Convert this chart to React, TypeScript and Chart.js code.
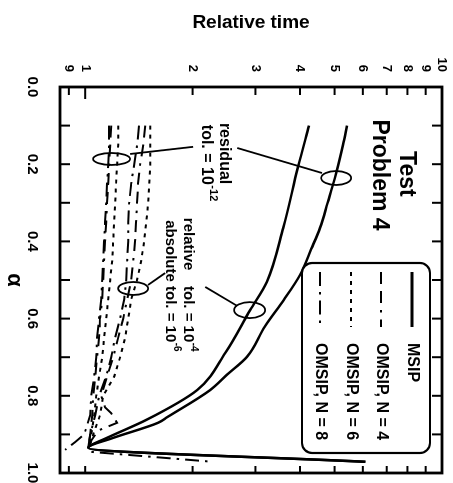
import React, { useEffect, useRef } from 'react';
import { Chart, registerables } from 'chart.js';

Chart.register(...registerables);

const FONT = '"Liberation Sans", Arial, Helvetica, sans-serif';

// Horizontal axis (α)
const alphaTickValues = [0, 0.2, 0.4, 0.6, 0.8, 1.0];
const alphaTickLabels = ['0.0', '0.2', '0.4', '0.6', '0.8', '1.0'];
const alphaTickMarks = [0.1, 0.2, 0.3, 0.4, 0.5, 0.6, 0.7, 0.8, 0.9];

// Logarithmic relative-time axis
const timeTickValues = [0.9, 1, 2, 3, 4, 5, 6, 7, 8, 9, 10];
const timeTickLabels = ['9', '1', '2', '3', '4', '5', '6', '7', '8', '9', '10'];

const legendLabels = ['MSIP', 'OMSIP, N = 4', 'OMSIP, N = 6', 'OMSIP, N = 8'];

// MSIP, residual tol. = 1e-12
const msipResAlpha = [0.10, 0.15, 0.236, 0.30, 0.365, 0.42, 0.487, 0.552, 0.62, 0.699, 0.745, 0.785, 0.855, 0.87, 0.91, 0.935, 0.971];
const msipResTime = [5.42, 5.28, 5.01, 4.78, 4.55, 4.30, 4.00, 3.60, 3.19, 2.84, 2.50, 2.24, 1.70, 1.60, 1.19, 1.02, 6.1];

// MSIP, relative tol. = 1e-4, absolute tol. = 1e-6
const msipRelAlpha = [0.10, 0.207, 0.365, 0.505, 0.578, 0.689, 0.785, 0.863, 0.91, 0.935, 0.971];
const msipRelTime = [4.24, 3.95, 3.59, 3.23, 2.90, 2.47, 2.06, 1.48, 1.145, 1.02, 6.1];

// OMSIP, residual tolerance
const omsipResAlpha = [0.10, 0.15, 0.20, 0.25, 0.30, 0.35, 0.40, 0.45, 0.50, 0.55, 0.60, 0.65, 0.70, 0.75, 0.80, 0.85, 0.90, 0.935];
const omsipN4ResTime = [1.183, 1.175, 1.167, 1.160, 1.152, 1.145, 1.137, 1.130, 1.123, 1.116, 1.101, 1.094, 1.080, 1.067, 1.053, 1.046, 1.033, 1.019];
const omsipN6ResTime = [1.237, 1.237, 1.229, 1.221, 1.213, 1.206, 1.198, 1.190, 1.175, 1.160, 1.145, 1.130, 1.116, 1.094, 1.074, 1.060, 1.040, 1.019];
const omsipN8ResAlpha = [0.10, 0.15, 0.20, 0.25, 0.30, 0.35, 0.40, 0.45, 0.50, 0.55, 0.60, 0.65, 0.70, 0.75, 0.80, 0.85, 0.90, 0.92, 0.94];
const omsipN8ResTime = [1.167, 1.167, 1.160, 1.152, 1.145, 1.137, 1.130, 1.123, 1.116, 1.109, 1.094, 1.080, 1.074, 1.060, 1.040, 1.033, 0.994, 0.937, 0.879];

// OMSIP, relative / absolute tolerance
const omsipN4RelAlpha = [0.10, 0.15, 0.20, 0.25, 0.30, 0.35, 0.40, 0.45, 0.50, 0.55, 0.60, 0.65, 0.70, 0.75, 0.80, 0.83, 0.845, 0.87, 0.89, 0.92, 0.94];
const omsipN4RelTime = [1.473, 1.454, 1.426, 1.407, 1.398, 1.389, 1.380, 1.363, 1.346, 1.311, 1.278, 1.237, 1.198, 1.152, 1.109, 1.137, 1.183, 1.229, 1.087, 1.033, 1.019];
const omsipN6RelAlpha = [0.10, 0.15, 0.20, 0.25, 0.30, 0.35, 0.40, 0.45, 0.50, 0.55, 0.60, 0.65, 0.70, 0.75, 0.80, 0.85, 0.90, 0.935];
const omsipN6RelTime = [1.522, 1.522, 1.522, 1.512, 1.502, 1.483, 1.463, 1.435, 1.398, 1.346, 1.320, 1.294, 1.253, 1.206, 1.123, 1.101, 1.053, 1.026];
const omsipN8RelAlpha = [0.10, 0.15, 0.20, 0.25, 0.30, 0.35, 0.40, 0.45, 0.50, 0.55, 0.60, 0.65, 0.70, 0.75, 0.80, 0.85, 0.90, 0.935, 0.945, 0.971];
const omsipN8RelTime = [1.416, 1.398, 1.372, 1.346, 1.328, 1.320, 1.320, 1.311, 1.303, 1.286, 1.253, 1.213, 1.183, 1.145, 1.094, 1.067, 1.033, 1.019, 1.03, 2.28];

const DASH_N4 = [12, 7, 12, 7, 2.5, 7];
const DASH_N6 = [4, 5];
const DASH_N8 = [14, 6, 2.5, 6];
const legendDashes = [[], DASH_N4, DASH_N6, DASH_N8];

const pts = (a: number[], t: number[]) => a.map((v, i) => ({ x: v, y: t[i] }));

const line = (data: { x: number; y: number }[], dash: number[], width: number, smooth: boolean) => ({
  data,
  borderColor: '#000',
  borderWidth: width,
  borderDash: dash,
  pointRadius: 0,
  fill: false,
  tension: 0,
  cubicInterpolationMode: smooth ? 'monotone' : 'default',
});

const notesPlugin = {
  id: 'notes',
  afterDatasetsDraw(chart: any) {
    const { ctx, chartArea: a, scales } = chart;
    const px = (v: number) => scales.x.getPixelForValue(v);
    const py = (v: number) => scales.y.getPixelForValue(v);
    ctx.save();
    ctx.strokeStyle = '#000';
    ctx.fillStyle = '#000';
    ctx.setLineDash([]);
    ctx.lineCap = 'butt';

    const seg = (x1: number, y1: number, x2: number, y2: number) => {
      ctx.beginPath();
      ctx.moveTo(x1, y1);
      ctx.lineTo(x2, y2);
      ctx.stroke();
    };
    const ell = (x: number, y: number, rx: number, ry: number) => {
      ctx.beginPath();
      ctx.ellipse(x, y, rx, ry, 0, 0, Math.PI * 2);
      ctx.stroke();
    };
    const text = (s: string, x: number, y: number, size: number, align = 'left') => {
      ctx.font = `bold ${size}px ${FONT}`;
      ctx.textAlign = align;
      ctx.textBaseline = 'middle';
      ctx.fillText(s, x, y);
    };
    const supText = (base: string, sup: string, x: number, y: number, size: number) => {
      text(base, x, y, size);
      const w = ctx.measureText(base).width;
      text(sup, x + w + 0.5, y - size * 0.42, Math.round(size * 0.68));
    };

    // frame
    ctx.lineWidth = 2.8;
    ctx.strokeRect(a.left, a.top, a.right - a.left, a.bottom - a.top);

    // inward tick marks
    ctx.lineWidth = 2;
    alphaTickMarks.forEach((t) => {
      const x = px(t);
      seg(x, a.bottom, x, a.bottom - 10);
      seg(x, a.top, x, a.top + 10);
    });
    timeTickValues.forEach((t) => {
      const y = py(t);
      seg(a.left, y, a.left + (t === 1 ? 12 : 8), y);
      seg(a.right, y, a.right - 7, y);
    });

    // leader lines and ellipses
    ctx.lineWidth = 1.8;
    ell(px(0.1865), py(1.186), 6, 18.5);
    seg(px(0.1736), py(1.337), px(0.155), py(2.007));
    seg(px(0.158), py(2.666), px(0.2228), py(4.61));
    ell(px(0.2358), py(5.05), 7, 15);
    ell(px(0.522), py(1.363), 6.5, 15);
    seg(px(0.513), py(1.5), px(0.482), py(1.675));
    seg(px(0.518), py(2.17), px(0.567), py(2.666));
    ell(px(0.578), py(2.89), 8, 15.5);

    // labels
    text('Test', px(0.225), py(7.93), 23, 'center');
    text('Problem 4', px(0.228), py(6.66), 23, 'center');
    text('residual', px(0.093), py(2.45), 16);
    supText('tol. = 10', '-12', px(0.098), py(2.18), 16);
    text('relative', px(0.339), py(1.94), 15);
    supText('tol. = 10', '-4', px(0.5155), py(1.94), 15);
    text('absolute', px(0.345), py(1.73), 15);
    supText('tol. = 10', '-6', px(0.5155), py(1.73), 15);

    // legend
    const bx = a.left + 176;
    const bw = a.right - 20 - bx;
    const by = a.top + 12;
    const bh = 128;
    const r = 10;
    ctx.beginPath();
    ctx.moveTo(bx + r, by);
    ctx.arcTo(bx + bw, by, bx + bw, by + bh, r);
    ctx.arcTo(bx + bw, by + bh, bx, by + bh, r);
    ctx.arcTo(bx, by + bh, bx, by, r);
    ctx.arcTo(bx, by, bx + bw, by, r);
    ctx.closePath();
    ctx.fillStyle = '#fff';
    ctx.fill();
    ctx.lineWidth = 2.2;
    ctx.stroke();
    ctx.fillStyle = '#000';
    const rows = [30, 61, 91, 122];
    legendLabels.forEach((lab, i) => {
      const yy = by + rows[i] - 12;
      ctx.lineWidth = i === 0 ? 2.8 : 2.2;
      ctx.setLineDash(legendDashes[i]);
      seg(bx + 9, yy, bx + 64, yy);
      ctx.setLineDash([]);
      text(lab, bx + 80, yy, 16);
    });

    ctx.restore();
  },
};

export default function App() {
  const ref = useRef<HTMLCanvasElement | null>(null);

  useEffect(() => {
    if (!ref.current) return;
    const chart = new Chart(ref.current, {
      type: 'line',
      data: {
        datasets: [
          line(pts(msipResAlpha, msipResTime), [], 2.5, true),
          line(pts(msipRelAlpha, msipRelTime), [], 2.5, true),
          line(pts(omsipResAlpha, omsipN4ResTime), DASH_N4, 2, false),
          line(pts(omsipResAlpha, omsipN6ResTime), DASH_N6, 2, false),
          line(pts(omsipN8ResAlpha, omsipN8ResTime), DASH_N8, 2, false),
          line(pts(omsipN4RelAlpha, omsipN4RelTime), DASH_N4, 2, false),
          line(pts(omsipN6RelAlpha, omsipN6RelTime), DASH_N6, 2, false),
          line(pts(omsipN8RelAlpha, omsipN8RelTime), DASH_N8, 2, false),
        ] as any,
      },
      options: {
        responsive: false,
        animation: false,
        devicePixelRatio: 1,
        layout: { padding: { top: 11, right: 10, left: 0, bottom: 0 } },
        plugins: { legend: { display: false }, tooltip: { enabled: false } },
        scales: {
          x: {
            type: 'linear',
            min: 0,
            max: 1,
            grid: { display: false },
            border: { display: false },
            afterBuildTicks: (s: any) => {
              s.ticks = alphaTickValues.map((v) => ({ value: v }));
            },
            afterFit: (s: any) => {
              s.height = 60;
              s.paddingLeft = 0;
              s.paddingRight = 0;
            },
            ticks: {
              autoSkip: false,
              maxRotation: 0,
              padding: 11,
              color: '#000',
              font: { family: FONT, size: 15, weight: 'bold' },
              callback: (_v: any, i: number) => alphaTickLabels[i],
            },
            title: {
              display: true,
              text: 'α',
              color: '#000',
              font: { family: FONT, size: 22, weight: 'bold' },
              padding: { top: 0, bottom: 1 },
            },
          },
          y: {
            type: 'logarithmic',
            min: 0.85,
            max: 10,
            grid: { display: false },
            border: { display: false },
            afterBuildTicks: (s: any) => {
              s.ticks = timeTickValues.map((v) => ({ value: v }));
            },
            afterFit: (s: any) => {
              s.width = 87;
              s.paddingTop = 0;
              s.paddingBottom = 0;
            },
            ticks: {
              autoSkip: false,
              padding: 7,
              color: '#000',
              font: { family: FONT, size: 13, weight: 'bold' },
              callback: (_v: any, i: number) => timeTickLabels[i],
            },
            title: {
              display: true,
              text: 'Relative time',
              color: '#000',
              font: { family: FONT, size: 19, weight: 'bold' },
              padding: { top: 11, bottom: 0 },
            },
          },
        },
      } as any,
      plugins: [notesPlugin],
    });
    return () => chart.destroy();
  }, []);

  return (
    <div
      style={{
        position: 'fixed',
        left: 0,
        top: 0,
        width: 453,
        height: 483,
        overflow: 'hidden',
        background: '#fff',
      }}
    >
      <div
        style={{
          position: 'absolute',
          left: 0,
          top: 0,
          width: 483,
          height: 453,
          transformOrigin: '0 0',
          transform: 'translate(453px, 0px) rotate(90deg)',
        }}
      >
        <canvas ref={ref} width={483} height={453} style={{ display: 'block', width: 483, height: 453 }} />
      </div>
    </div>
  );
}
